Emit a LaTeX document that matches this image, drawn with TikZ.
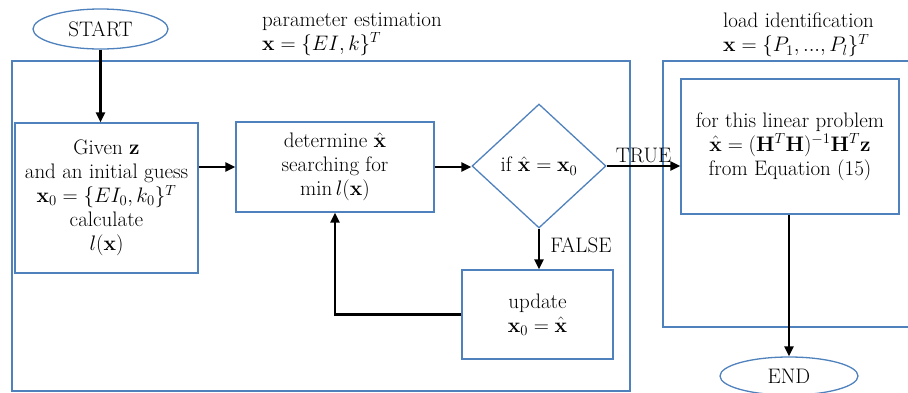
\RequirePackage{fix-cm}
\documentclass[tikz,border=0pt]{standalone}
\usepackage{amsmath}
\usetikzlibrary{shapes.geometric,arrows.meta}
\definecolor{fb}{RGB}{79,129,189}
\begin{document}
\begin{tikzpicture}[x=1pt,y=-1pt,
  font=\fontsize{21}{24}\selectfont,
  term/.style={ellipse,draw=fb,line width=1.3pt,inner sep=0pt},
  box/.style={rectangle,draw=fb,line width=1.3pt,inner sep=0pt,align=center},
  dia/.style={diamond,draw=fb,line width=1.3pt,inner sep=0pt,minimum width=134pt,minimum height=124pt},
  frame/.style={draw=fb,line width=1.3pt},
  arr/.style={line width=2.8pt,-{Triangle[length=10pt,width=9pt]}},
  title/.style={anchor=north west,align=left,inner sep=0pt}]
\useasboundingbox (0,0) rectangle (908,392);
\begin{scope}
\clip (0,0) rectangle (908,392);
\draw[frame] (12,61) rectangle (630,391);
\draw[frame] (915,61) -| (663,327) -- (915,327);
\node[term,minimum width=138pt,minimum height=38pt] (end) at (789,376) {END};
\end{scope}
\node[term,minimum width=135pt,minimum height=40pt] (start) at (100.5,29) {START};
\node[title] (pe) at (262,12.5) {parameter estimation\\ $\mathbf{x}=\{EI,k\}^T$};
\node[title] (li) at (723,13) {load identification\\ $\mathbf{x}=\{P_1,...,P_l\}^T$};
\node[box,minimum width=183pt,minimum height=150pt] (given) at (106.5,198)
  {Given $\mathbf{z}$\\ and an initial guess\\ $\mathbf{x}_0=\{EI_0,k_0\}^T$\\ calculate\\ $l(\mathbf{x})$};
\node[box,minimum width=198pt,minimum height=90pt] (det) at (335,167)
  {determine $\hat{\mathbf{x}}$\\ searching for\\ $\min l(\mathbf{x})$};
\node[dia] (dec) at (539,166) {if $\hat{\mathbf{x}}=\mathbf{x}_0$};
\node[box,minimum width=151pt,minimum height=89pt] (upd) at (537.5,314.5)
  {update\\ $\mathbf{x}_0=\hat{\mathbf{x}}$};
\node[box,minimum width=218pt,minimum height=135pt] (load) at (790,146.5)
  {for this linear problem\\ $\hat{\mathbf{x}}=(\mathbf{H}^T\mathbf{H})^{-1}\mathbf{H}^T\mathbf{z}$\\ from Equation (15)};
\draw[arr] (start.south) -- (given.north -| start.south);
\draw[arr] (given.east |- det.west) -- (det.west);
\draw[arr] (det.east) -- (dec.west |- det.east);
\draw[arr] (dec.east) -- (dec.east -| load.west) node[midway,above,inner sep=2pt] (tl) {TRUE};
\draw[arr] (dec.south) -- (upd.north -| dec.south) node[pos=0.4,right,inner sep=0pt,xshift=10pt] (fl) {FALSE};
\draw[arr] (upd.west) -| (det.south);
\draw[arr] (load.south -| end.north) -- (end.north);
\end{tikzpicture}
\end{document}
